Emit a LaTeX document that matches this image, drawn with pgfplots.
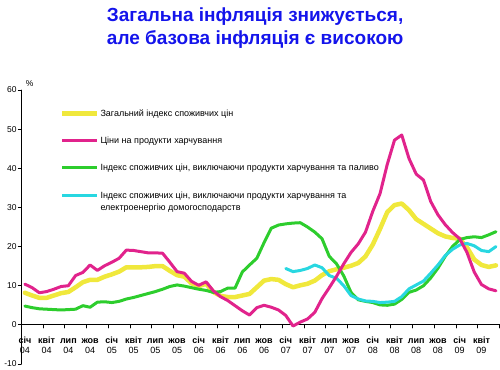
\documentclass[border=0pt]{standalone}
\usepackage{fontspec}
\setmainfont{Liberation Sans}
\usepackage{pgfplots}
\usepackage{pgfplotstable}
\pgfplotsset{compat=1.18}
\definecolor{cY}{RGB}{240,232,60}
\definecolor{cM}{RGB}{225,35,140}
\definecolor{cG}{RGB}{45,205,45}
\definecolor{cC}{RGB}{40,215,225}
\definecolor{cT}{RGB}{20,20,235}
\newcommand{\ml}[2]{\rule{0pt}{15bp}{\bfseries\fontsize{9bp}{10bp}\selectfont #1}\\#2}
\pgfplotstableread{
i cpi food core coreb
0 8.2 10.4 4.8 nan
1 7.5 9.5 4.4 nan
2 6.9 8.2 4.1 nan
3 6.9 8.5 4.0 nan
4 7.5 9.1 3.9 nan
5 8.1 9.8 3.8 nan
6 8.4 10.0 3.9 nan
7 9.6 12.6 4.0 nan
8 10.9 13.4 4.9 nan
9 11.5 15.3 4.5 nan
10 11.5 13.9 5.8 nan
11 12.3 15.1 5.9 nan
12 12.9 16.0 5.7 nan
13 13.6 17.0 6.0 nan
14 14.7 19.1 6.6 nan
15 14.7 19.0 7.0 nan
16 14.7 18.7 7.5 nan
17 14.8 18.4 8.0 nan
18 15.0 18.4 8.5 nan
19 15.0 18.3 9.1 nan
20 13.8 16.0 9.8 nan
21 12.7 13.6 10.2 nan
22 12.3 13.2 9.9 nan
23 10.6 11.1 9.5 nan
24 9.9 10.1 9.1 nan
25 10.5 11.0 8.8 nan
26 8.4 8.7 8.3 nan
27 7.4 7.2 8.5 nan
28 7.1 6.2 9.4 nan
29 7.1 4.9 9.4 nan
30 7.5 3.6 13.5 nan
31 7.9 2.5 15.3 nan
32 9.6 4.4 17.0 nan
33 11.3 5.0 21.0 nan
34 11.7 4.5 24.7 nan
35 11.5 3.8 25.5 nan
36 10.4 2.4 25.8 14.4
37 9.6 -0.3 26.0 13.6
38 10.1 0.7 26.1 13.9
39 10.5 1.5 25.0 14.4
40 11.3 3.2 23.7 15.3
41 12.7 6.7 22.0 14.6
42 13.7 9.5 17.5 12.6
43 14.2 12.4 15.6 11.9
44 14.6 15.6 12.5 10.0
45 15.1 18.5 8.3 7.5
46 15.8 20.7 6.4 6.6
47 17.5 23.7 6.0 6.1
48 20.5 29.0 5.7 6.0
49 24.5 33.5 5.1 5.7
50 28.8 41.0 5.0 5.8
51 30.6 47.2 5.3 6.0
52 31.0 48.5 6.5 7.2
53 29.3 42.5 8.3 9.2
54 27.0 38.5 8.9 10.2
55 25.8 37.0 10.0 11.2
56 24.6 31.5 12.0 13.2
57 23.4 28.1 14.5 15.3
58 22.6 25.6 17.5 17.7
59 22.2 23.6 20.0 19.3
60 22.0 22.0 21.8 20.4
61 19.8 18.5 22.3 20.8
62 16.7 13.5 22.5 20.2
63 15.3 10.3 22.3 19.0
64 14.8 9.2 23.0 18.7
65 15.2 8.7 23.8 20.0
}\data
\begin{document}
\begin{tikzpicture}
\path[use as bounding box] (0,0) rectangle (500bp,370bp);
\begin{axis}[
  at={(21.25bp,6bp)}, anchor=south west,
  scale only axis, width=478.35bp, height=274bp,
  xmin=-0.5, xmax=65.5, ymin=-10, ymax=60,
  axis x line*=middle, axis y line*=left,
  hide obscured y ticks=false, hide obscured x ticks=false,
  axis line style={black, line width=0.8bp},
  tick style={black, line width=0.8bp},
  tick align=outside,
  ytick={-10,0,10,20,30,40,50,60},
  yticklabels={-10,0,10,20,30,40,50,60},
  major tick length=3bp,
  xtick={0,3,...,63},
  xticklabels={\ml{січ}{04},\ml{квіт}{04},\ml{лип}{04},\ml{жов}{04},\ml{січ}{05},\ml{квіт}{05},\ml{лип}{05},\ml{жов}{05},\ml{січ}{06},\ml{квіт}{06},\ml{лип}{06},\ml{жов}{06},\ml{січ}{07},\ml{квіт}{07},\ml{лип}{07},\ml{жов}{07},\ml{січ}{08},\ml{квіт}{08},\ml{лип}{08},\ml{жов}{08},\ml{січ}{09},\ml{квіт}{09}},
  major x tick style={draw=none},
  minor xtick={2.5,5.5,...,65.5},
  minor tick length=3bp,
  xticklabel style={font=\fontsize{9bp}{10.5bp}\selectfont, align=center, inner sep=0pt, anchor=north},
  yticklabel style={font=\fontsize{8.5bp}{10bp}\selectfont, inner sep=1.5bp},
  ylabel={\%},
  every axis y label/.style={at={(axis description cs:0,1)}, anchor=south west, font=\fontsize{8.5bp}{9bp}\selectfont, xshift=1bp, yshift=0bp},
  title={Загальна інфляція знижується,\\але базова інфляція є високою},
  title style={at={(axis description cs:0.489,1)}, anchor=south, yshift=35bp, inner sep=0pt, align=center, text=cT, font=\bfseries\fontsize{19bp}{23bp}\selectfont},
  legend style={at={(axis cs:4.82,55.3)}, anchor=north west, draw=none, fill=none, inner sep=0pt, font=\fontsize{9bp}{11.5bp}\selectfont, row sep=17bp, nodes={inner sep=1bp}},
  legend cell align=left,
  legend image code/.code={\draw[#1] (0bp,0bp) -- (35bp,0bp);},
  line join=round, line cap=round,
]
\addlegendimage{cY, line width=4.5bp}
\addlegendentry{Загальний індекс споживчих цін}
\addlegendimage{cM, line width=3bp}
\addlegendentry{Ціни на продукти харчування}
\addlegendimage{cG, line width=3bp}
\addlegendentry{Індекс споживчих цін, виключаючи продукти харчування та паливо}
\addlegendimage{cC, line width=3bp}
\addlegendentry{\begin{tabular}[t]{@{}l@{}}Індекс споживчих цін, виключаючи продукти харчування та\\електроенергію домогосподарств\end{tabular}}
\addplot[cY, line width=4.5bp, forget plot] table[x=i, y=cpi] {\data};
\addplot[cG, line width=3bp, forget plot] table[x=i, y=core] {\data};
\addplot[cC, line width=3bp, forget plot] table[x=i, y=coreb] {\data};
\addplot[cM, line width=3bp, forget plot] table[x=i, y=food] {\data};
\end{axis}
\end{tikzpicture}
\end{document}
